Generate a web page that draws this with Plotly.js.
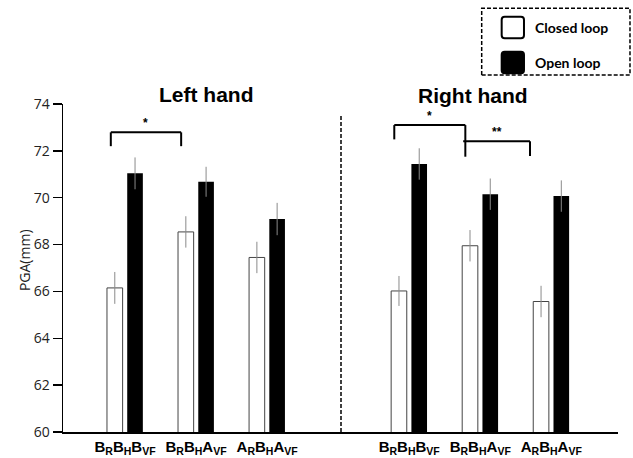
<!DOCTYPE html>
<html>
<head>
<meta charset="utf-8">
<script src="https://cdn.plot.ly/plotly-3.0.1.min.js"></script>
<style>html,body{margin:0;padding:0;background:#fff;}#chart{width:633px;height:458px;}</style>
</head>
<body>
<div id="chart"></div>
<script>
// Condition labels (left hand group, then right hand group)
const categories = [
  '<b>B<sub>R</sub>B<sub>H</sub>B<sub>VF</sub></b>',
  '<b>B<sub>R</sub>B<sub>H</sub>A<sub>VF</sub></b>',
  '<b>A<sub>R</sub>B<sub>H</sub>A<sub>VF</sub></b>',
  '<b>B<sub>R</sub>B<sub>H</sub>B<sub>VF</sub></b>',
  '<b>B<sub>R</sub>B<sub>H</sub>A<sub>VF</sub></b>',
  '<b>A<sub>R</sub>B<sub>H</sub>A<sub>VF</sub></b>'
];
// slot index of each condition (slot 3 is the gap between hands)
const slots = [0, 1, 2, 4, 5, 6];
const closedLoop = [66.15, 68.54, 67.45, 66.02, 67.95, 65.57];
const closedErr  = [0.68, 0.67, 0.67, 0.64, 0.67, 0.67];
const openLoop   = [71.04, 70.68, 69.09, 71.44, 70.15, 70.07];
const openErr    = [0.68, 0.64, 0.69, 0.67, 0.67, 0.67];
const yTicks = [60, 62, 64, 66, 68, 70, 72, 74];
const yTitle = 'PGA(mm)';
const panelTitles = ['Left hand', 'Right hand'];
const seriesNames = ['Closed loop', 'Open loop'];
// significance brackets: [x from, x to, bar y, left leg bottom, right leg bottom, label]
const brackets = [
  [-0.20, 0.79, 72.79, 72.20, 72.20, '*'],
  [3.79, 4.79, 73.10, 72.49, 71.75, '*'],
  [4.76, 5.70, 72.41, null, 71.78, '**']
];

const traces = [
  {
    type: 'bar', name: seriesNames[0], x: slots, y: closedLoop,
    width: 0.22, offset: -0.254,
    marker: {color: '#ffffff', line: {color: '#444444', width: 1}},
    error_y: {type: 'data', array: closedErr, visible: true, color: '#8a8a8a', thickness: 1, width: 0},
    showlegend: false, hoverinfo: 'skip'
  },
  {
    type: 'bar', name: seriesNames[1], x: slots, y: openLoop,
    width: 0.22, offset: 0.031,
    marker: {color: '#000000', line: {color: '#000000', width: 0}},
    error_y: {type: 'data', array: openErr, visible: true, color: '#8a8a8a', thickness: 1, width: 0},
    showlegend: false, hoverinfo: 'skip'
  }
];

const shapes = [];
const annotations = [];

// brackets
brackets.forEach(b => {
  const [x0, x1, y, yl, yr, lab] = b;
  shapes.push({type: 'line', xref: 'x', yref: 'y', x0: x0, x1: x1, y0: y, y1: y, line: {color: '#000', width: 2}});
  if (yl !== null) shapes.push({type: 'line', xref: 'x', yref: 'y', x0: x0, x1: x0, y0: y, y1: yl, line: {color: '#000', width: 2}});
  if (yr !== null) shapes.push({type: 'line', xref: 'x', yref: 'y', x0: x1, x1: x1, y0: y, y1: yr, line: {color: '#000', width: 2}});
  annotations.push({xref: 'x', yref: 'y', x: (x0 + x1) / 2, y: y, text: '<b>' + lab + '</b>', showarrow: false,
    yanchor: 'bottom', xanchor: 'center', font: {family: 'Liberation Sans, Arial', size: 12, color: '#000'}});
});

// dashed separator between hands
shapes.push({type: 'line', xref: 'x', yref: 'y', x0: 3.04, x1: 3.04, y0: 60, y1: 73.53,
  line: {color: '#000', width: 1.5, dash: '4px,2px'}});

// panel titles
annotations.push({xref: 'x', yref: 'paper', x: 1.15, y: 1.03, text: '<b>' + panelTitles[0] + '</b>', showarrow: false,
  xanchor: 'center', yanchor: 'middle', font: {family: 'Liberation Sans, Arial', size: 21, color: '#000'}});
annotations.push({xref: 'x', yref: 'paper', x: 4.90, y: 1.026, text: '<b>' + panelTitles[1] + '</b>', showarrow: false,
  xanchor: 'center', yanchor: 'middle', font: {family: 'Liberation Sans, Arial', size: 21, color: '#000'}});

// y axis title
annotations.push({xref: 'paper', yref: 'paper', x: -0.0703, y: 0.524, text: yTitle, textangle: -90, showarrow: false,
  xanchor: 'center', yanchor: 'middle', font: {family: 'Open Sans', size: 14, color: '#222'}});

// custom legend box
shapes.push({type: 'rect', xref: 'paper', yref: 'paper', x0: 0.7544, x1: 1.0216, y0: 1.0884, y1: 1.2918,
  line: {color: '#000', width: 1.5, dash: '4px,2px'}, fillcolor: 'rgba(0,0,0,0)'});
function roundSq(x0, x1, y0, y1) {
  const rx = 3 / 555, ry = 3 / 328;
  return 'M' + (x0 + rx) + ',' + y0 + ' L' + (x1 - rx) + ',' + y0 + ' Q' + x1 + ',' + y0 + ' ' + x1 + ',' + (y0 + ry) +
    ' L' + x1 + ',' + (y1 - ry) + ' Q' + x1 + ',' + y1 + ' ' + (x1 - rx) + ',' + y1 +
    ' L' + (x0 + rx) + ',' + y1 + ' Q' + x0 + ',' + y1 + ' ' + x0 + ',' + (y1 - ry) +
    ' L' + x0 + ',' + (y0 + ry) + ' Q' + x0 + ',' + y0 + ' ' + (x0 + rx) + ',' + y0 + ' Z';
}
shapes.push({type: 'path', xref: 'paper', yref: 'paper', path: roundSq(0.7904, 0.8306, 1.2003, 1.2662),
  line: {color: '#000', width: 2}, fillcolor: '#fff'});
shapes.push({type: 'path', xref: 'paper', yref: 'paper', path: roundSq(0.7904, 0.8306, 1.0936, 1.1595),
  line: {color: '#000', width: 2}, fillcolor: '#000'});
annotations.push({xref: 'paper', yref: 'paper', x: 0.8474, y: 1.2332, text: '<b>' + seriesNames[0] + '</b>', showarrow: false,
  xanchor: 'left', yanchor: 'middle', font: {family: 'Lato, Open Sans', size: 14, color: '#000'}});
annotations.push({xref: 'paper', yref: 'paper', x: 0.8474, y: 1.128, text: '<b>' + seriesNames[1] + '</b>', showarrow: false,
  xanchor: 'left', yanchor: 'middle', font: {family: 'Lato, Open Sans', size: 14, color: '#000'}});

const layout = {
  width: 633, height: 458,
  margin: {l: 63, r: 15, t: 104, b: 26, pad: 0},
  paper_bgcolor: '#fff', plot_bgcolor: '#fff',
  barmode: 'overlay',
  showlegend: false,
  xaxis: {
    range: [-0.873, 6.939], tickmode: 'array', tickvals: slots, ticktext: categories,
    showline: true, linecolor: '#000', linewidth: 1.5, ticks: '', showgrid: false, zeroline: false,
    tickfont: {family: 'Liberation Sans, Arial', size: 15, color: '#000'}, fixedrange: true
  },
  yaxis: {
    range: [60, 74], tickmode: 'array', tickvals: yTicks,
    showline: true, linecolor: '#000', linewidth: 1.5, ticks: 'outside', ticklen: 9, tickwidth: 1.5, tickcolor: '#000',
    showgrid: false, zeroline: false,
    tickfont: {family: 'Open Sans', size: 14, color: '#222'},
    fixedrange: true
  },
  shapes: shapes,
  annotations: annotations
};

Plotly.newPlot('chart', traces, layout, {displayModeBar: false, staticPlot: true});
</script>
</body>
</html>
